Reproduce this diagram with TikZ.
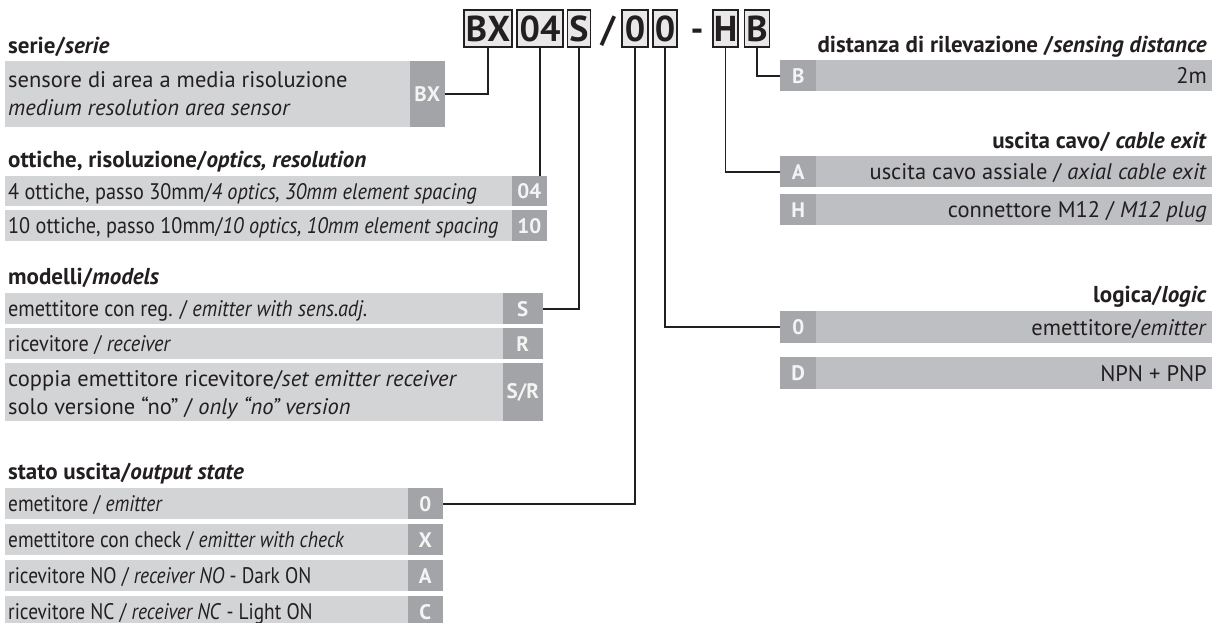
\documentclass[tikz,border=0pt]{standalone}
\usepackage{graphicx}
\usepackage{fontspec}
\setmainfont{PT Sans}
\definecolor{barLc}{RGB}{211,212,214}
\definecolor{cellLc}{RGB}{163,164,167}
\definecolor{barRc}{RGB}{190,191,194}
\definecolor{cellRc}{RGB}{166,167,170}
\definecolor{codec}{RGB}{232,232,233}
\definecolor{ink}{RGB}{35,31,32}
\definecolor{celltext}{RGB}{244,244,244}
\tikzset{
  rowtext/.style={font=\fontsize{22.5}{26}\selectfont, text=ink, inner sep=0pt},
  head/.style={font=\fontsize{23}{24}\selectfont\bfseries, text=ink, inner sep=0pt},
  cellfont/.style={inner sep=0pt, text=celltext, font=\fontsize{21}{21}\selectfont\bfseries},
  lcell/.style={cellfont, fill=cellLc},
  rcell/.style={cellfont, fill=cellRc},
  codebox/.style={draw=ink, line width=1.4pt, fill=codec, inner sep=0pt, minimum height=37pt,
    font=\fontsize{36}{36}\selectfont\bfseries, text=ink},
  codesep/.style={inner sep=0pt, font=\fontsize{36}{36}\selectfont\bfseries, text=ink, anchor=base},
  conn/.style={draw=ink, line width=1.8pt},
}
\newcommand\hs[2]{\scalebox{#1}[1]{#2}}
% left row: name, x1, y1, x2, y2, cell width, code
\newcommand\lrow[7]{%
  \fill[barLc] (#2,#3) rectangle (#4,#5);
  \node[lcell, minimum width=#6pt, minimum height={(#5-#3)*1pt}, anchor=north east] (#1) at (#4,#3) {#7};}
% right row: name, x1, y1, y2, cell width, code
\newcommand\rrow[6]{%
  \fill[barRc] (#2,#3) rectangle (1212,#4);
  \node[rcell, minimum width=#5pt, minimum height={(#4-#3)*1pt}, anchor=north west] (#1) at (#2,#3) {#6};}
\begin{document}
\begin{tikzpicture}[x=1pt,y=-1pt]
\useasboundingbox (0,0) rectangle (1212,623);
% ---------- code boxes ----------
\node[codebox, minimum width=48pt] (kBX) at (488,28.5) {BX};
\node[codebox, minimum width=46pt] (k04) at (540,28.5) {04};
\node[codebox, minimum width=23pt] (kS) at (579,28.5) {S};
\node[codesep] (kslash) at (608,41.5) {/};
\node[codebox, minimum width=26pt] (kO1) at (635,28.5) {0};
\node[codebox, minimum width=24pt] (kO2) at (665,28.5) {0};
\node[codesep] (kdash) at (697,41.5) {-};
\node[codebox, minimum width=25pt] (kH) at (725.5,28.5) {H};
\node[codebox, minimum width=25pt] (kB) at (757,28.5) {B};
% ---------- left column ----------
\node[head, anchor=base west] (hserie) at (8,54) {serie/\textit{serie}};
\lrow{cBX}{5}{61}{445}{127}{35}{BX}
\node[rowtext, anchor=base west] (tBXa) at (8,88) {sensore di area a media risoluzione};
\node[rowtext, anchor=base west] (tBXb) at (8,116) {\textit{medium resolution area sensor}};

\node[head, anchor=base west] (hott) at (8,167) {ottiche, risoluzione/\textit{optics, resolution}};
\lrow{c04}{5}{176}{547}{206}{35}{04}
\node[rowtext, anchor=base west] (t04) at (8,199) {\hs{0.9}{4 ottiche, passo 30mm/\textit{4 optics, 30mm element spacing}}};
\lrow{c10}{5}{210}{547}{241}{35}{10}
\node[rowtext, anchor=base west] (t10) at (8,233.5) {\hs{0.9}{10 ottiche, passo 10mm/\textit{10 optics, 10mm element spacing}}};

\node[head, anchor=base west] (hmod) at (8,284) {modelli/\textit{models}};
\lrow{cS}{5}{293}{543}{324}{40}{S}
\node[rowtext, anchor=base west] (tS) at (8,316.5) {\hs{0.9}{emettitore con reg. / \textit{emitter with sens.adj.}}};
\lrow{cR}{5}{328}{543}{359}{40}{R}
\node[rowtext, anchor=base west] (tR) at (8,351.5) {\hs{0.9}{ricevitore / \textit{receiver}}};
\lrow{cSR}{5}{363}{543}{421}{40}{S/R}
\node[rowtext, anchor=base west] (tSRa) at (8,386) {coppia emettitore ricevitore/\textit{set emitter receiver}};
\node[rowtext, anchor=base west] (tSRb) at (8,414) {solo versione “no” / \textit{only “no” version}};

\node[head, anchor=base west] (hstato) at (8,479) {stato uscita/\textit{output state}};
\lrow{cO}{5}{488}{443}{519}{35}{0}
\node[rowtext, anchor=base west] (tO) at (8,511.5) {\hs{0.86}{emetitore / \textit{emitter}}};
\lrow{cX}{5}{524}{443}{555}{35}{X}
\node[rowtext, anchor=base west] (tX) at (8,547.5) {\hs{0.86}{emettitore con check / \textit{emitter with check}}};
\lrow{cA}{5}{560}{443}{591}{35}{A}
\node[rowtext, anchor=base west] (tA) at (8,583.5) {\hs{0.86}{ricevitore NO / \textit{receiver NO} - Dark ON}};
\lrow{cC}{5}{596}{443}{627}{35}{C}
\node[rowtext, anchor=base west] (tC) at (8,619) {\hs{0.86}{ricevitore NC / \textit{receiver NC} - Light ON}};
% ---------- right column ----------
\node[head, anchor=base east] (hdist) at (1207,53) {distanza di rilevazione /\textit{sensing distance}};
\rrow{gB}{780}{60}{91}{36}{B}
\node[rowtext, anchor=base east] (tgB) at (1207,83.5) {2m};

\node[head, anchor=base east] (hcavo) at (1207,149) {uscita cavo/ \textit{cable exit}};
\rrow{gA}{780}{156}{187}{36}{A}
\node[rowtext, anchor=base east] (tgA) at (1207,179.5) {uscita cavo assiale / \textit{axial cable exit}};
\rrow{gH}{780}{194}{225}{36}{H}
\node[rowtext, anchor=base east] (tgH) at (1207,217.5) {connettore M12 / \textit{M12 plug}};

\node[head, anchor=base east] (hlog) at (1207,302) {logica/\textit{logic}};
\rrow{gO}{780}{311}{343}{36}{0}
\node[rowtext, anchor=base east] (tgO) at (1207,335) {emettitore/\textit{emitter}};
\rrow{gD}{780}{357}{389}{36}{D}
\node[rowtext, anchor=base east] (tgD) at (1207,381) {NPN + PNP};
% ---------- connectors ----------
\draw[conn] (kBX.south) |- (cBX.east);
\draw[conn] (k04.south) -- (k04.south |- c04.north);
\draw[conn] (kS.south) |- (cS.east);
\draw[conn] (kO1.south) |- (cO.east);
\draw[conn] (kO2.south) |- (gO.west);
\draw[conn] (kH.south) |- (gA.west);
\draw[conn] (kB.south) |- (gB.west);
\end{tikzpicture}
\end{document}
